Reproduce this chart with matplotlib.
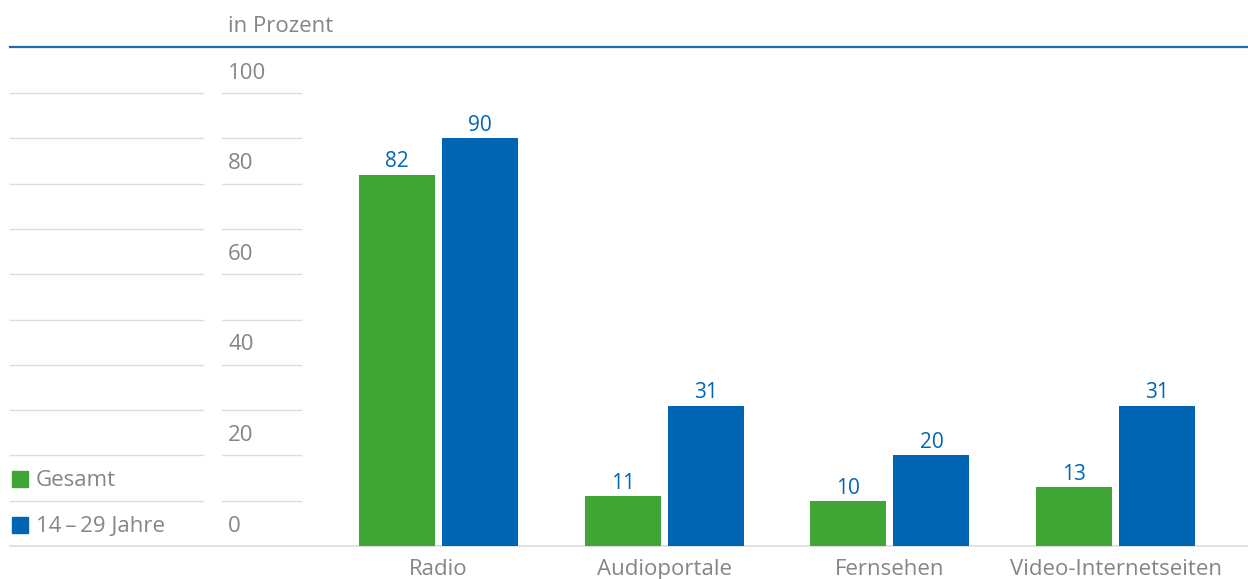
import numpy as np
import matplotlib.pyplot as plt
from matplotlib.patches import Rectangle

# Daten
kategorien = ["Radio", "Audioportale", "Fernsehen", "Video-Internetseiten"]
gesamt = [82, 11, 10, 13]
jung = [90, 31, 20, 31]
serien = ["Gesamt", "14\u2009\u2013\u200929 Jahre"]
y_ticks = [0, 20, 40, 60, 80, 100]

GRUEN = "#3fa535"
BLAU = "#0066b3"
GRAU_TXT = "#858585"
GRAU_LINIE = "#dcdcdc"
FS = 16

plt.rcParams["font.family"] = ["Open Sans", "DejaVu Sans"]

W, H = 1248, 579
fig = plt.figure(figsize=(W / 100, H / 100), dpi=100)

# Achse in Pixelmassen: 0 bei y=546, 100 bei y=93
px0, px1 = 10, 1248
py0, py100 = 546, 93
ax = fig.add_axes([px0 / W, (H - py0) / H, (px1 - px0) / W, (py0 - py100) / H])
ax.set_ylim(0, 100)
mitte0, abstand = 438.5, 225.7
ax.set_xlim((px0 - mitte0) / abstand, (px1 - mitte0) / abstand)
ax.axis("off")

def px2x(px):
    return (px - mitte0) / abstand

def py2y(py):
    return (py0 - py) / (py0 - py100) * 100

# Gitterlinien links (Legendenspalte und Skalenspalte)
for v in range(10, 101, 10):
    ax.plot([px2x(10), px2x(203)], [v, v], color=GRAU_LINIE, lw=1, clip_on=False)
    ax.plot([px2x(222), px2x(301)], [v, v], color=GRAU_LINIE, lw=1, clip_on=False)

# Grundlinie und obere Linie
ax.plot([px2x(10), px2x(1248)], [0, 0], color=GRAU_LINIE, lw=1.2, clip_on=False, zorder=1)
ax.plot([px2x(10), px2x(1248)], [py2y(47), py2y(47)], color="#1a6db5", lw=1.6, clip_on=False)

# Skalenbeschriftung (mittig im Feld ueber der jeweiligen Linie)
for v in y_ticks:
    ax.text(px2x(228), v + 4.4, str(v), color=GRAU_TXT,
            fontsize=FS, ha="left", va="center")
ax.text(px2x(228), py2y(27), "in Prozent", color=GRAU_TXT, fontsize=FS,
        ha="left", va="center", clip_on=False)

# Balken
x = np.arange(len(kategorien))
breite = 76 / abstand
versatz = 83 / 2 / abstand
b1 = ax.bar(x - versatz, gesamt, width=breite, color=GRUEN, zorder=2)
b2 = ax.bar(x + versatz, jung, width=breite, color=BLAU, zorder=2)

for balken, werte in ((b1, gesamt), (b2, jung)):
    for r, w in zip(balken, werte):
        ax.annotate(str(w), (r.get_x() + r.get_width() / 2, w),
                    xytext=(0, 1.5), textcoords="offset points",
                    ha="center", va="bottom", color=BLAU, fontsize=15)

# Kategorienbeschriftung
for xi, k in zip(x, kategorien):
    ax.annotate(k, (xi, 0), xytext=(0, -9.5), textcoords="offset points",
                ha="center", va="top", color=GRAU_TXT, fontsize=FS,
                annotation_clip=False)

# Legende
for i, (name, farbe) in enumerate(zip(serien, [GRUEN, BLAU])):
    ymitte = py2y(479 + 46 * i)
    qh = py2y(0) - py2y(15.5)
    ax.add_patch(Rectangle((px2x(12), ymitte - qh / 2), 15.5 / abstand, qh,
                           color=farbe, clip_on=False))
    ax.text(px2x(36), py2y(481 + 46 * i), name, color=GRAU_TXT, fontsize=FS,
            ha="left", va="center")

fig.savefig("out.png", dpi=100)
